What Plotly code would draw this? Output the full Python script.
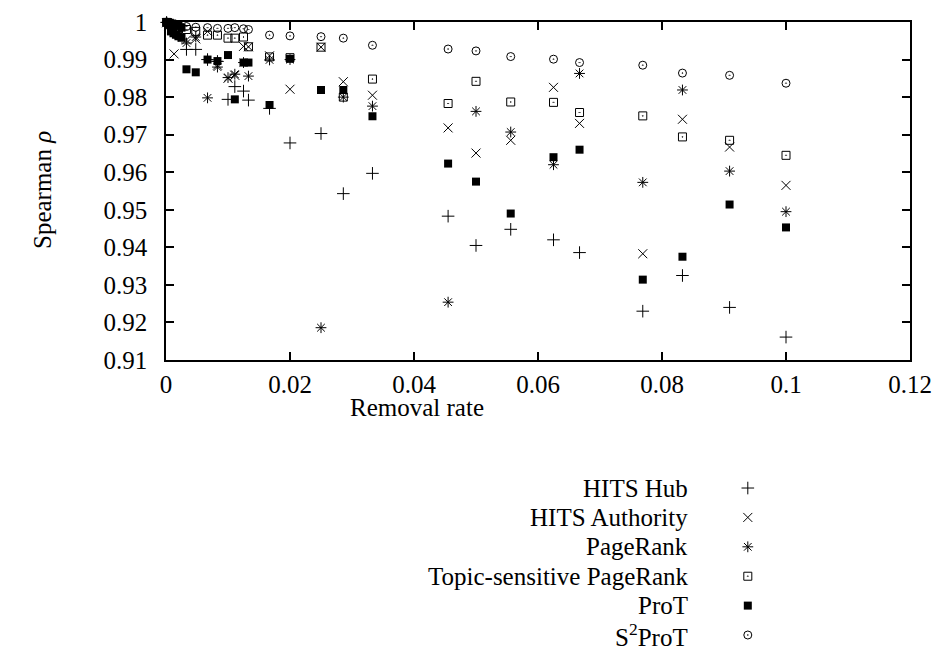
import plotly.graph_objects as go

# ---------------- data ----------------
hub_x = [0.0001, 0.0005, 0.001, 0.002, 0.0033, 0.0048, 0.0067, 0.0083, 0.01, 0.0111, 0.0125, 0.0133,
         0.0167, 0.02, 0.025, 0.0286, 0.0333, 0.0455, 0.05, 0.0556, 0.0625, 0.0667, 0.0769, 0.0833, 0.0909, 0.1]
hub_y = [0.9999, 0.9993, 0.9985, 0.9965, 0.9927, 0.9927, 0.9900, 0.9895, 0.9794, 0.9828, 0.9816, 0.9792,
         0.9770, 0.9678, 0.9703, 0.9543, 0.9597, 0.9483, 0.9405, 0.9448, 0.9420, 0.9386, 0.9230, 0.9325, 0.9240, 0.9161]

auth_x = [0.0001, 0.0005, 0.001, 0.0013, 0.002, 0.0033, 0.0048, 0.0067, 0.0083, 0.01, 0.0111, 0.0125, 0.0133,
          0.0167, 0.02, 0.025, 0.0286, 0.0333, 0.0455, 0.05, 0.0556, 0.0625, 0.0667, 0.0769, 0.0833, 0.0909, 0.1]
auth_y = [0.9998, 0.9990, 0.9980, 0.9915, 0.9970, 0.9952, 0.9955, 0.9975, 0.9885, 0.9850, 0.9858, 0.9935, 0.9934,
          0.9910, 0.9821, 0.9933, 0.9841, 0.9805, 0.9718, 0.9651, 0.9685, 0.9826, 0.9730, 0.9383, 0.9741, 0.9667, 0.9565]

pr_x = [0.0001, 0.0005, 0.001, 0.002, 0.0033, 0.0048, 0.0067, 0.0083, 0.01, 0.0111, 0.0125, 0.0133,
        0.0167, 0.02, 0.025, 0.0286, 0.0333, 0.0455, 0.05, 0.0556, 0.0625, 0.0667, 0.0769, 0.0833, 0.0909, 0.1]
pr_y = [0.9999, 0.9993, 0.9980, 0.9965, 0.9944, 0.9960, 0.9798, 0.9880, 0.9852, 0.9861, 0.9892, 0.9856,
        0.9899, 0.9900, 0.9186, 0.9800, 0.9776, 0.9254, 0.9762, 0.9707, 0.9620, 0.9863, 0.9573, 0.9819, 0.9603, 0.9495]

tspr_x = [0.0001, 0.0005, 0.001, 0.002, 0.0033, 0.0048, 0.0067, 0.0083, 0.01, 0.0111, 0.0125, 0.0133,
          0.0167, 0.02, 0.025, 0.0286, 0.0333, 0.0455, 0.05, 0.0556, 0.0625, 0.0667, 0.0769, 0.0833, 0.0909, 0.1]
tspr_y = [0.9999, 0.9996, 0.9992, 0.9985, 0.9980, 0.9975, 0.9965, 0.9965, 0.9957, 0.9957, 0.9960, 0.9934,
          0.9907, 0.9905, 0.9933, 0.9800, 0.9848, 0.9783, 0.9842, 0.9787, 0.9786, 0.9759, 0.9750, 0.9694, 0.9685, 0.9645]

prot_x = [0.0001, 0.0003, 0.0006, 0.001, 0.0015, 0.002, 0.0025, 0.0008, 0.0012, 0.0016, 0.002, 0.0025,
          0.0033, 0.0048, 0.0067, 0.0083, 0.01, 0.0111, 0.0125, 0.0133, 0.0167, 0.02, 0.025, 0.0286, 0.0333,
          0.0455, 0.05, 0.0556, 0.0625, 0.0667, 0.0769, 0.0833, 0.0909, 0.1]
prot_y = [1.0000, 1.0000, 0.9998, 0.9996, 0.9993, 0.9990, 0.9985, 0.9975, 0.9970, 0.9966, 0.9962, 0.9958,
          0.9874, 0.9866, 0.9900, 0.9896, 0.9912, 0.9794, 0.9892, 0.9892, 0.9779, 0.9902, 0.9819, 0.9819, 0.9749,
          0.9623, 0.9575, 0.9490, 0.9640, 0.9660, 0.9314, 0.9375, 0.9514, 0.9453]

s2_x = [0.0001, 0.0005, 0.001, 0.002, 0.0033, 0.0048, 0.0067, 0.0083, 0.01, 0.0111, 0.0125, 0.0133,
        0.0167, 0.02, 0.025, 0.0286, 0.0333, 0.0455, 0.05, 0.0556, 0.0625, 0.0667, 0.0769, 0.0833, 0.0909, 0.1]
s2_y = [1.0000, 0.9997, 0.9995, 0.9992, 0.9988, 0.9986, 0.9985, 0.9983, 0.9983, 0.9985, 0.9982, 0.9980,
        0.9965, 0.9963, 0.9961, 0.9957, 0.9938, 0.9928, 0.9923, 0.9908, 0.9901, 0.9892, 0.9885, 0.9864, 0.9858, 0.9837]

series_names = ["HITS Hub", "HITS Authority", "PageRank", "Topic-sensitive PageRank", "ProT", "S<sup>2</sup>ProT"]

x_ticks = [0, 0.02, 0.04, 0.06, 0.08, 0.1, 0.12]
x_tick_text = ["0", "0.02", "0.04", "0.06", "0.08", "0.1", "0.12"]
y_ticks = [0.91, 0.92, 0.93, 0.94, 0.95, 0.96, 0.97, 0.98, 0.99, 1.0]
y_tick_text = ["0.91", "0.92", "0.93", "0.94", "0.95", "0.96", "0.97", "0.98", "0.99", "1"]

# ---------------- styles ----------------
styles = [
    dict(symbol="cross-thin-open", size=9, line=dict(width=1, color="black"), color="black"),
    dict(symbol="x-thin-open", size=9, line=dict(width=1, color="black"), color="black"),
    dict(symbol="asterisk-open", size=9, line=dict(width=1, color="black"), color="black"),
    dict(symbol="square-open-dot", size=8, line=dict(width=1, color="black"), color="black"),
    dict(symbol="square", size=8, line=dict(width=0), color="black"),
    dict(symbol="circle-open-dot", size=8, line=dict(width=1, color="black"), color="black"),
]
all_data = [(hub_x, hub_y), (auth_x, auth_y), (pr_x, pr_y), (tspr_x, tspr_y), (prot_x, prot_y), (s2_x, s2_y)]

FONT = "Liberation Serif, Times New Roman, Times, serif"
FS = 25
W, H = 944, 647
ML, MR, MT, MB = 166, 34, 22, 2
plot_h = H - MT - MB
main_bottom_px = 360
dom_bottom = (H - MB - main_bottom_px) / plot_h

fig = go.Figure()
for (xs, ys), name, st in zip(all_data, series_names, styles):
    fig.add_trace(go.Scatter(x=xs, y=ys, mode="markers", name=name, marker=st,
                             showlegend=False, xaxis="x", yaxis="y", cliponaxis=False))

# legend drawn as its own small axis below the plot
for i, (name, st) in enumerate(zip(series_names, styles)):
    fig.add_trace(go.Scatter(x=[0.782], y=[i], mode="markers", marker=st, showlegend=False,
                             xaxis="x2", yaxis="y2", hoverinfo="skip"))
    fig.add_annotation(x=0.704, y=i, xref="paper", yref="y2", text=name, showarrow=False,
                       xanchor="right", yanchor="middle", font=dict(family=FONT, size=FS, color="black"))

fig.update_layout(
    width=W, height=H, autosize=False,
    margin=dict(l=ML, r=MR, t=MT, b=MB, autoexpand=False),
    showlegend=False,
    paper_bgcolor="white", plot_bgcolor="white",
    font=dict(family=FONT, size=FS, color="black"),
    xaxis=dict(range=[0, 0.12], tickvals=x_ticks, ticktext=x_tick_text, ticks="inside", ticklen=8,
               tickwidth=1.5, tickcolor="black", showline=True, linecolor="black", linewidth=1.5,
               mirror="ticks", showgrid=False, zeroline=False, anchor="y", ticklabelstandoff=1,
               tickfont=dict(family=FONT, size=FS)),
    yaxis=dict(range=[0.91, 1.0], domain=[dom_bottom, 1], tickvals=y_ticks, ticktext=y_tick_text,
               ticks="inside", ticklen=8, tickwidth=1.5, tickcolor="black", showline=True,
               linecolor="black", linewidth=1.5, mirror="ticks", showgrid=False, zeroline=False,
               anchor="x", ticklabelstandoff=12, tickfont=dict(family=FONT, size=FS)),
    xaxis2=dict(range=[0, 1], domain=[0, 1], visible=False, anchor="y2"),
    yaxis2=dict(range=[5.34, -2.29], domain=[0, 0.36], visible=False, anchor="x2"),
)

# axis titles
fig.add_annotation(x=(417 - ML) / (W - ML - MR), y=(H - MB - 407) / plot_h, xref="paper", yref="paper",
                   text="Removal rate", showarrow=False, xanchor="center", yanchor="middle",
                   font=dict(family=FONT, size=FS))
fig.add_annotation(x=(42 - ML) / (W - ML - MR), y=(H - MB - 190) / plot_h, xref="paper", yref="paper",
                   text="Spearman <i>ρ</i>", showarrow=False, textangle=-90, xanchor="center",
                   yanchor="middle", font=dict(family=FONT, size=FS))

fig.write_html("out.html")
